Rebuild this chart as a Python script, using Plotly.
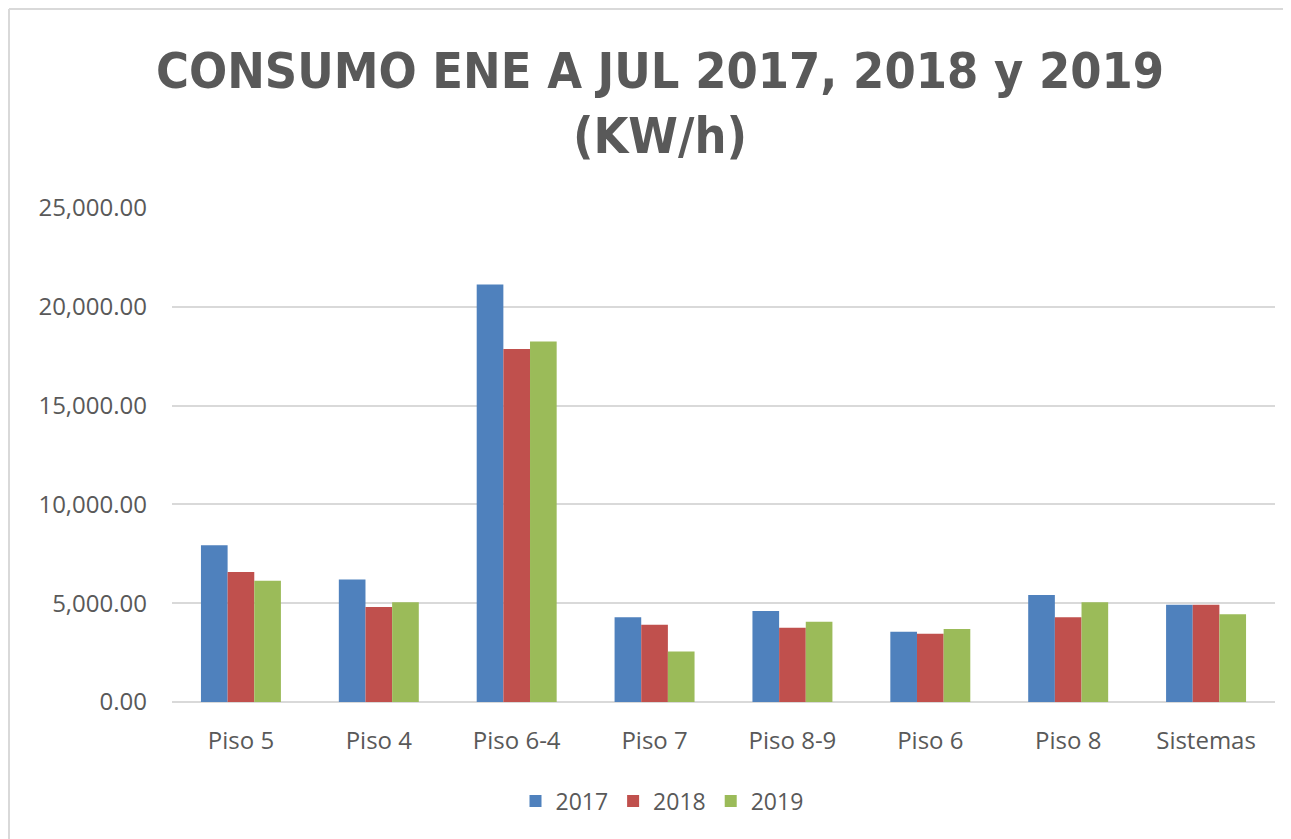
import plotly.graph_objects as go

categories = ["Piso 5", "Piso 4", "Piso 6-4", "Piso 7", "Piso 8-9", "Piso 6", "Piso 8", "Sistemas"]
v2017 = [7930, 6200, 21130, 4290, 4600, 3560, 5420, 4920]
v2018 = [6580, 4810, 17860, 3910, 3760, 3450, 4290, 4920]
v2019 = [6130, 5050, 18250, 2550, 4060, 3690, 5050, 4440]
series_names = ["2017", "2018", "2019"]
colors = ["#4F81BD", "#C0504D", "#9BBB59"]

OFF = 8  # page body margin
W, H = 1291 - OFF, 839 - OFF
L, T = 172 - OFF, 208 - OFF
pw, ph = 1103, 494
R = W - L - pw
B = H - T - ph

def px_x(x):
    return (x - OFF - L) / pw

def px_y(y):
    return (T + ph - (y - OFF)) / ph

TITLE_FONT = "DejaVu Sans Condensed, Liberation Sans Narrow, Liberation Sans, sans-serif"

fig = go.Figure()
for name, vals, c in zip(series_names, [v2017, v2018, v2019], colors):
    fig.add_trace(go.Bar(x=categories, y=vals, name=name, marker=dict(color=c, line=dict(width=0))))

fig.update_layout(
    width=W, height=H,
    margin=dict(l=L, r=R, t=T, b=B, autoexpand=False),
    paper_bgcolor="white", plot_bgcolor="white",
    barmode="group", bargap=0.42, bargroupgap=0,
    font=dict(family="Open Sans, sans-serif", color="#595959"),
    title=dict(
        text="<b>CONSUMO ENE A JUL 2017, 2018 y 2019<br>(KW/h)</b>",
        x=(660 - OFF) / W, xanchor="center", y=1 - (88 - OFF) / H, yanchor="middle",
        font=dict(size=50, color="#595959", family=TITLE_FONT),
    ),
    showlegend=True,
    legend=dict(
        orientation="h", x=px_x(662), xanchor="center", y=px_y(801), yanchor="middle",
        font=dict(size=23, color="#595959", family="Open Sans, sans-serif"),
        itemwidth=30, traceorder="normal",
    ),
    xaxis=dict(
        showgrid=False, showline=False, ticks="", ticklabelstandoff=22,
        tickfont=dict(size=24, color="#595959", family="Open Sans, sans-serif"),
    ),
    yaxis=dict(
        range=[0, 25000], dtick=5000, tickformat=",.2f",
        showgrid=True, gridcolor="#D9D9D9", gridwidth=1.5,
        zeroline=True, zerolinecolor="#D9D9D9", zerolinewidth=1.5,
        showline=False, ticks="", ticklabelstandoff=24,
        tickfont=dict(size=24, color="#595959", family="Open Sans, sans-serif"),
    ),
    shapes=[
        dict(type="line", xref="paper", yref="paper", x0=px_x(OFF + 1), x1=px_x(OFF + 1), y0=px_y(OFF + 1), y1=px_y(850),
             line=dict(color="#D9D9D9", width=2)),
        dict(type="line", xref="paper", yref="paper", x0=px_x(OFF + 1), x1=px_x(1300), y0=px_y(OFF + 1), y1=px_y(OFF + 1),
             line=dict(color="#D9D9D9", width=2)),
    ],
)

fig.write_html("out.html")
